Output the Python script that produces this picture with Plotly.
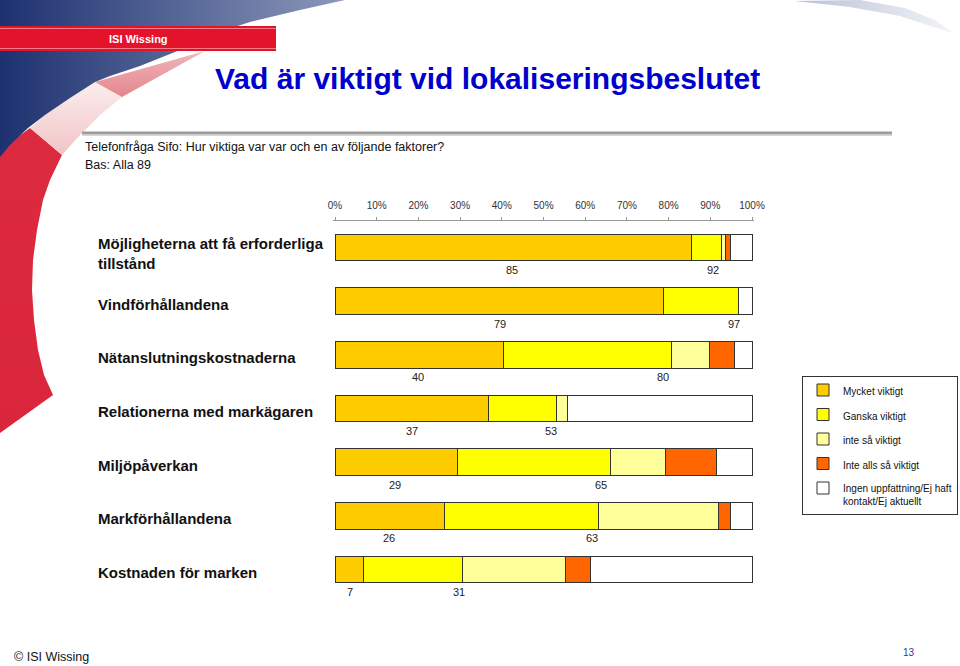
import plotly.graph_objects as go

# ---------------- data ----------------
categories = [
    "Möjligheterna att få erforderliga<br>tillstånd",
    "Vindförhållandena",
    "Nätanslutningskostnaderna",
    "Relationerna med markägaren",
    "Miljöpåverkan",
    "Markförhållandena",
    "Kostnaden för marken",
]
series_names = [
    "Mycket viktigt",
    "Ganska viktigt",
    "inte så viktigt",
    "Inte alls så viktigt",
    "Ingen uppfattning/Ej haft<br>kontakt/Ej aktuellt",
]
mycket = [85.6, 78.7, 40.3, 36.9, 29.3, 26.2, 6.8]
ganska = [7.2, 18.0, 40.5, 16.1, 36.8, 37.1, 23.7]
inte_sa = [0.9, 0.0, 8.9, 2.8, 13.2, 28.6, 24.8]
inte_alls = [1.2, 0.0, 6.1, 0.0, 12.3, 3.0, 5.9]
ingen = [5.1, 3.3, 4.2, 44.2, 8.4, 5.1, 38.8]
label_mycket = [85, 79, 40, 37, 29, 26, 7]
label_mycket_ganska = [92, 97, 80, 53, 65, 63, 31]
tick_values = [0, 10, 20, 30, 40, 50, 60, 70, 80, 90, 100]
tick_labels = ["0%", "10%", "20%", "30%", "40%", "50%", "60%", "70%", "80%", "90%", "100%"]

series_values = [mycket, ganska, inte_sa, inte_alls, ingen]
series_colors = ["#FFCC00", "#FFFF00", "#FFFF99", "#FF6600", "#FFFFFF"]

FONT = "Liberation Sans, Arial, Helvetica, sans-serif"
W, H = 960, 666

fig = go.Figure()

# ---------------- decorative header (pixel axes x2/y2) ----------------
def deco(xs, ys, c0, c1, gtype="horizontal"):
    fig.add_trace(go.Scatter(
        x=xs, y=ys, xaxis="x2", yaxis="y2", mode="lines", fill="toself",
        line=dict(width=0), fillgradient=dict(type=gtype, colorscale=[[0, c0], [1, c1]]),
        hoverinfo="skip", showlegend=False))

# red crescent on the left
deco([0, 30, 62, 50, 43, 37, 33, 32, 34, 38, 44, 53, 0, 0],
     [150, 128, 155, 180, 200, 230, 260, 290, 320, 350, 375, 395, 433, 150],
     "#D9263A", "#DC2A3E", "vertical")
# light pink band below the blue swoosh
deco([95, 122, 100, 80, 62, 30, 45, 70],
     [82, 97, 115, 135, 155, 128, 115, 98],
     "#F2C4C6", "#FBEDED", "vertical")
# salmon wedge
deco([95, 205, 122, 95], [82, 51, 97, 82], "#E4868C", "#F0B6B9", "vertical")
# blue swoosh
deco([0, 345, 300, 250, 210, 175, 140, 110, 95, 70, 45, 28, 10, 0, 0],
     [0, 0, 10, 22, 35, 52, 66, 76, 82, 98, 115, 128, 145, 157, 0],
     "#1D3170", "#8C98BA", "horizontal")
# grey swoosh top right
deco([795, 860, 905, 935, 955, 900, 850, 795],
     [1, 0, 8, 20, 34, 16, 7, 1],
     "#B9C0D6", "#F4F5F9", "horizontal")

# ---------------- bars ----------------
for name, vals, col in zip(series_names, series_values, series_colors):
    fig.add_trace(go.Bar(
        y=categories, x=vals, name=name, orientation="h", width=0.5,
        marker=dict(color=col, line=dict(color="#333333", width=1)),
        legendgroup=name, hoverinfo="skip", xaxis="x", yaxis="y"))

annotations = []
# value labels under bars
for cat, a, b in zip(categories, label_mycket, label_mycket_ganska):
    annotations.append(dict(x=a / 2, y=cat, xref="x", yref="y", text=str(a), showarrow=False,
                            yshift=-22.5, font=dict(family=FONT, size=11, color="#222")))
    annotations.append(dict(x=b - 1.3, y=cat, xref="x", yref="y", text=str(b), showarrow=False,
                            yshift=-22.5, font=dict(family=FONT, size=11, color="#222")))
# category labels
for cat in categories:
    annotations.append(dict(x=96, y=cat, xref="x2", yref="y", text="<b>" + cat + "</b>",
                            showarrow=False, xanchor="left", yanchor="middle", align="left",
                            yshift=-6.5 if "<br>" in cat else -3,
                            font=dict(family=FONT, size=15, color="#111")))

# header texts
annotations += [
    dict(x=138, y=38.5, xref="x2", yref="y2", text="<b>ISI Wissing</b>", showarrow=False,
         font=dict(family=FONT, size=11, color="white")),
    dict(x=487, y=78, xref="x2", yref="y2", text="<b>Vad är viktigt vid lokaliseringsbeslutet</b>",
         showarrow=False, font=dict(family=FONT, size=30, color="#0000CC")),
    dict(x=83, y=147, xref="x2", yref="y2", xanchor="left",
         text="Telefonfråga Sifo: Hur viktiga var var och en av följande faktorer?",
         showarrow=False, font=dict(family=FONT, size=12.5, color="#111")),
    dict(x=83, y=165, xref="x2", yref="y2", xanchor="left", text="Bas: Alla 89",
         showarrow=False, font=dict(family=FONT, size=12.5, color="#111")),
    dict(x=12, y=657, xref="x2", yref="y2", xanchor="left", text="© ISI Wissing",
         showarrow=False, font=dict(family=FONT, size=12.5, color="#111")),
    dict(x=909, y=652, xref="x2", yref="y2", text="13",
         showarrow=False, font=dict(family=FONT, size=10, color="#333399")),
]

shapes = [
    dict(type="rect", xref="x2", yref="y2", x0=0, x1=276, y0=26, y1=51,
         fillcolor="#E3132C", line=dict(width=0)),
    dict(type="line", xref="x2", yref="y2", x0=0, x1=276, y0=28.5, y1=28.5,
         line=dict(color="#F37A86", width=1)),
    dict(type="line", xref="x2", yref="y2", x0=0, x1=276, y0=48.5, y1=48.5,
         line=dict(color="#F37A86", width=1)),
    dict(type="line", xref="x2", yref="y2", x0=82, x1=892, y0=133, y1=133,
         line=dict(color="#9C9C9C", width=3)),
    dict(type="line", xref="x2", yref="y2", x0=82, x1=892, y0=135.5, y1=135.5,
         line=dict(color="#D6D6D6", width=1)),
]

# x axis: 0% at 335 px, 100% at 752 px, padded slightly so bar outlines are not clipped
PX_PER_UNIT = (752 - 335) / 100.0
PAD = 0.4
x_left = 335 - PAD * PX_PER_UNIT
x_right = 752 + PAD * PX_PER_UNIT

fig.update_layout(
    width=W, height=H, autosize=False,
    margin=dict(l=0, r=0, t=0, b=0, autoexpand=False),
    paper_bgcolor="white", plot_bgcolor="rgba(0,0,0,0)",
    barmode="stack", bargap=0.5,
    font=dict(family=FONT, color="#111"),
    xaxis=dict(domain=[x_left / W, x_right / W], range=[-PAD, 100 + PAD], side="top", anchor="y",
               tickvals=tick_values, ticktext=tick_labels, showgrid=False, zeroline=False,
               showline=True, linecolor="#999", linewidth=1, ticks="outside", ticklen=3,
               tickcolor="#999", tickfont=dict(family=FONT, size=10, color="#333"),
               ticklabelstandoff=4, fixedrange=True),
    yaxis=dict(domain=[1 - 596.4 / H, 1 - 220.6 / H], type="category", categoryorder="array",
               categoryarray=categories, range=[6.5, -0.5], showticklabels=False,
               showgrid=False, zeroline=False, showline=False, ticks="", anchor="x",
               fixedrange=True),
    xaxis2=dict(domain=[0, 1], range=[0, W], visible=False, anchor="y2", fixedrange=True),
    yaxis2=dict(domain=[0, 1], range=[H, 0], visible=False, anchor="x2", fixedrange=True),
    legend=dict(x=802 / W, y=1 - 376 / H, xanchor="left", yanchor="top",
                bgcolor="white", bordercolor="#333", borderwidth=1, valign="top",
                font=dict(family=FONT, size=10, color="#111"),
                traceorder="grouped", tracegroupgap=5.5, itemclick=False, itemdoubleclick=False),
    annotations=annotations, shapes=shapes,
)

fig.write_html("out.html",
               config={"displayModeBar": False, "staticPlot": True, "responsive": False},
               post_script="document.body.style.margin='0';")
